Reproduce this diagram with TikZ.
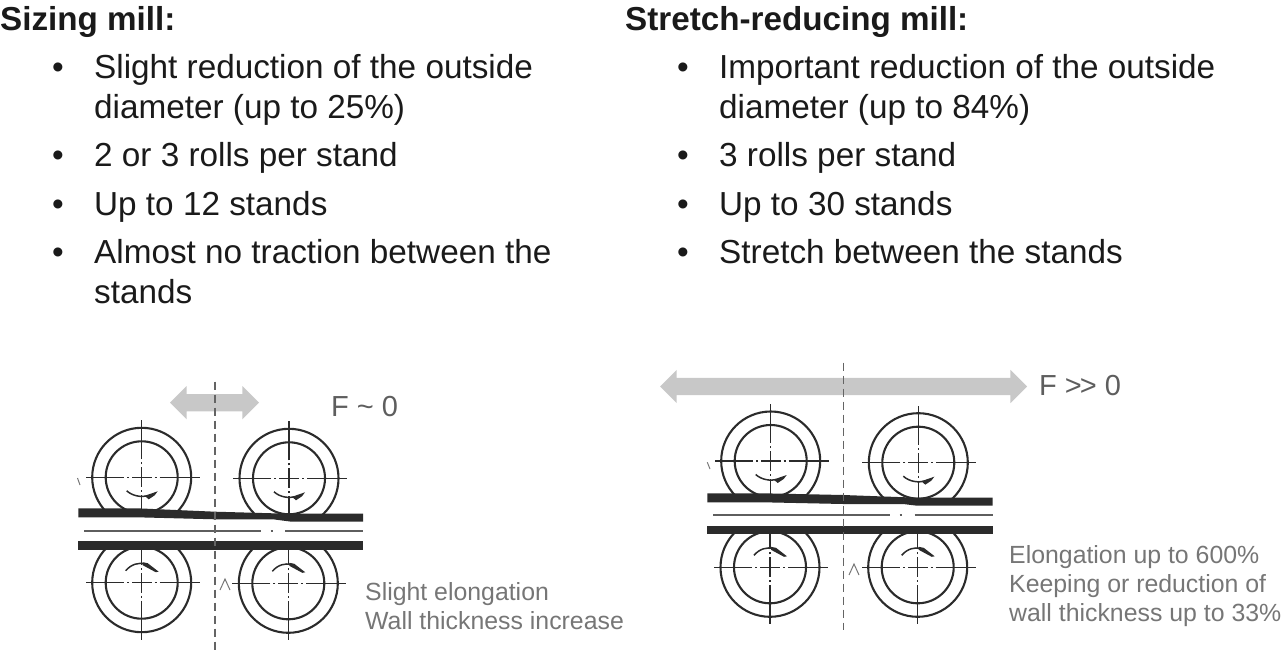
\documentclass[tikz,border=0pt]{standalone}
\usepackage{fontspec}
\setmainfont{Liberation Sans}
\usetikzlibrary{shapes.arrows}
\definecolor{textblack}{HTML}{1A1A1A}
\definecolor{forcegray}{HTML}{C8C8C8}
\definecolor{forcetext}{HTML}{5E5E5E}
\definecolor{labelgray}{HTML}{767676}
\definecolor{inkgray}{HTML}{2B2B2B}
\tikzset{
  heading/.style={anchor=base west,inner sep=0pt,font=\fontsize{33.2}{40}\selectfont\bfseries,text=textblack},
  itemtext/.style={anchor=base west,inner sep=0pt,align=left,font=\fontsize{33.3}{40}\selectfont,text=textblack},
  itembullet/.style={anchor=base,inner sep=0pt,font=\fontsize{33.3}{40}\selectfont,text=textblack},
  forcelabel/.style={anchor=base west,inner sep=0pt,font=\fontsize{29}{36}\selectfont,text=forcetext},
  caption/.style={anchor=base west,inner sep=0pt,align=left,font=\fontsize{24.85}{29}\selectfont,text=labelgray},
  rollouter/.style={circle,draw=inkgray,line width=2.1pt,inner sep=0pt,minimum size=99pt},
  rollinner/.style={circle,draw=inkgray,line width=2.1pt,inner sep=0pt,minimum size=72pt},
  centerline/.style={draw=inkgray,line width=1.3pt,dash pattern=on 10pt off 3pt on 2pt off 3pt on 60pt off 0pt},
  axisline/.style={draw=labelgray!85!black,line width=1.5pt,dash pattern=on 8pt off 5pt},
  force/.style={double arrow,fill=forcegray,inner xsep=0pt,inner ysep=8.5pt,minimum width=0pt,double arrow head extend=8pt,double arrow tip angle=90},
  thinline/.style={draw=forcetext,line width=1.6pt},
  nick/.style={draw=labelgray,line width=1pt}
}
\begin{document}
\begin{tikzpicture}[x=1pt,y=-1pt]
  \useasboundingbox (0,0) rectangle (1283,650);
  % text, left
  \node (sizing) at (0,31) [heading] {Sizing mill:};
  \node (sa) at (58,79) [itembullet] {•};
  \node (sat) at (94,119) [itemtext] {Slight reduction of the outside\\diameter (up to 25\%)};
  \node (sb) at (58,167) [itembullet] {•};
  \node (sbt) at (94,167) [itemtext] {2 or 3 rolls per stand};
  \node (sc) at (58,215) [itembullet] {•};
  \node (sct) at (94,215) [itemtext] {Up to 12 stands};
  \node (sd) at (58,263) [itembullet] {•};
  \node (sdt) at (94,303) [itemtext] {Almost no traction between the\\stands};
  % text, right
  \node (stretch) at (625,31) [heading] {Stretch-reducing mill:};
  \node (ra) at (683,79) [itembullet] {•};
  \node (rat) at (719,119) [itemtext] {Important reduction of the outside\\diameter (up to 84\%)};
  \node (rb) at (683,167) [itembullet] {•};
  \node (rbt) at (719,167) [itemtext] {3 rolls per stand};
  \node (rc) at (683,215) [itembullet] {•};
  \node (rct) at (719,215) [itemtext] {Up to 30 stands};
  \node (rd) at (683,263) [itembullet] {•};
  \node (rdt) at (719,263) [itemtext] {Stretch between the stands};
  % rolls
  \node (a) at (141.7,477.3) [rollouter] {};
  \node (b) at (289,478.3) [rollouter] {};
  \node (c) at (141.7,582.7) [rollouter] {};
  \node (d) at (288.3,583.3) [rollouter] {};
  \node (e) at (770.7,461) [rollouter] {};
  \node (f) at (918.3,462.7) [rollouter] {};
  \node (g) at (770,567.3) [rollouter] {};
  \node (h) at (917.7,567.3) [rollouter] {};
  \foreach \r in {a,b,c,d,e,f,g,h} {
    \node at (\r.center) [rollinner] {};
    \draw [centerline] (\r.center) -- +(-56,0);
    \draw [centerline] (\r.center) -- +(58,0);
    \draw [centerline] (\r.center) -- +(0,-57);
    \draw [centerline] (\r.center) -- +(0,57);
  }
  \foreach \r in {a,b,e,f} {
    \begin{scope}[shift={(\r.center)}]
      \draw [inkgray,line width=1.5pt] (-15,13.5) .. controls (-9,19) and (0,20) .. (6,18.5);
      \fill [inkgray] (3,18.5) -- (16,14) -- (13,18) -- (7,22) -- cycle;
    \end{scope}
  }
  \foreach \r in {c,d,g,h} {
    \begin{scope}[shift={(\r.center)}]
      \draw [inkgray,line width=1.5pt] (-16,-12) .. controls (-10,-19) and (-3,-20) .. (3,-19);
      \fill [inkgray] (1,-20.5) -- (6,-19.5) -- (17,-11) -- (14,-10.5) -- (1,-17.5) -- cycle;
    \end{scope}
  }
  % tubes
  \fill [white] (70,517) rectangle (370,541);
  \fill [white] (700,502) rectangle (1000,526);
  \fill [inkgray] (78.3,508.3) -- (137,508.3) -- (215,511.7) -- (273,513.3) -- (290,513.7) -- (363,513.7)
    -- (363,521.5) -- (290,521.5) -- (273,519.3) -- (215,519.3) -- (137,517.3) -- (78.3,517.3) -- cycle;
  \fill [inkgray] (78.3,541.3) rectangle (363,549.7);
  \fill [inkgray] (707.3,493.3) -- (763,493.3) -- (843,495) -- (917,497.7) -- (992.7,497.7)
    -- (992.7,505.7) -- (917,505.7) -- (903,504) -- (843,504) -- (763,502.3) -- (707.3,502.3) -- cycle;
  \fill [inkgray] (707.3,525.7) rectangle (992.7,534);
  \draw [thinline] (84,530.7) -- (261,530.7) (270.5,530.7) -- (273,530.7) (285,530.7) -- (363,530.7);
  \draw [thinline] (713,514.7) -- (890,514.7) (899.5,514.7) -- (902,514.7) (914.7,514.7) -- (992.7,514.7);
  % forces
  \node (fleft) at (214.5,402.7) [force,minimum height=89pt] {};
  \node (fright) at (843.5,386.5) [force,minimum height=367pt] {};
  \node (fltext) at (331,416) [forcelabel] {F \textasciitilde\ 0};
  \node (frtext) at (1039,395) [forcelabel] {F >\kern-2pt> 0};
  % axes
  \coordinate (atop) at (215,381.7);
  \coordinate (abot) at (215,650);
  \coordinate (btop) at (843.7,362.7);
  \coordinate (bbot) at (843.7,630);
  \draw [axisline] (atop) -- (abot);
  \draw [axisline] (btop) -- (bbot);
  \draw [nick] (220,590) -- (225,579) -- (230,590);
  \draw [nick] (849,575) -- (854,564) -- (859,575);
  \draw [nick] (77.5,478) -- (80,485);
  \draw [nick] (707.3,462.3) -- (710,469);
  % captions
  \node (capa) at (365,629) [caption] {Slight elongation\\Wall thickness increase};
  \node (capb) at (1009,621) [caption] {Elongation up to 600\%\\Keeping or reduction of\\wall thickness up to 33\%};
\end{tikzpicture}
\end{document}
